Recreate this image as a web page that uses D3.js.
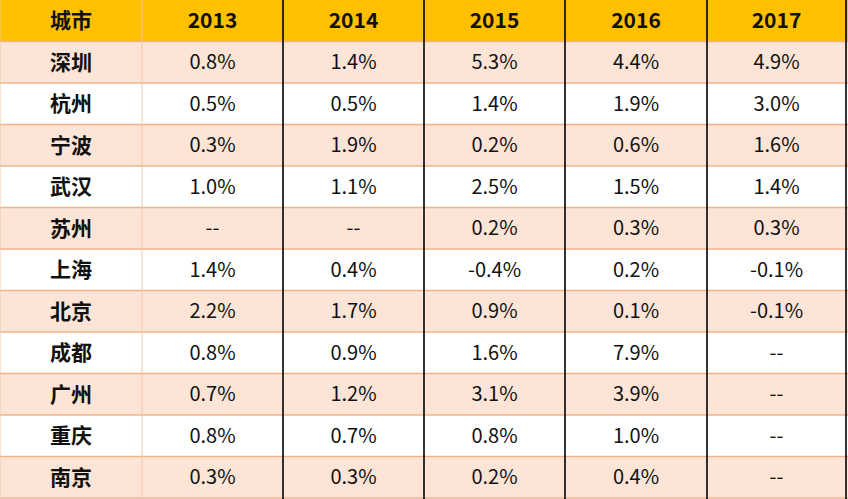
<!DOCTYPE html>
<html>
<head>
<meta charset="utf-8">
<script src="https://cdn.jsdelivr.net/npm/d3@7"></script>
<style>
  body { margin: 0; background: #fff; }
  svg { display: block; }
</style>
</head>
<body>
<svg id="table" width="848" height="499"></svg>
<script>
// table contents
var header0 = "城市";
var years = ["2013", "2014", "2015", "2016", "2017"];
var cities = ["深圳", "杭州", "宁波", "武汉", "苏州", "上海", "北京", "成都", "广州", "重庆", "南京"];
var v2013 = ["0.8%", "0.5%", "0.3%", "1.0%", "--", "1.4%", "2.2%", "0.8%", "0.7%", "0.8%", "0.3%"];
var v2014 = ["1.4%", "0.5%", "1.9%", "1.1%", "--", "0.4%", "1.7%", "0.9%", "1.2%", "0.7%", "0.3%"];
var v2015 = ["5.3%", "1.4%", "0.2%", "2.5%", "0.2%", "-0.4%", "0.9%", "1.6%", "3.1%", "0.8%", "0.2%"];
var v2016 = ["4.4%", "1.9%", "0.6%", "1.5%", "0.3%", "0.2%", "0.1%", "7.9%", "3.9%", "1.0%", "0.4%"];
var v2017 = ["4.9%", "3.0%", "1.6%", "1.4%", "0.3%", "-0.1%", "-0.1%", "--", "--", "--", "--"];

var svg = d3.select("#table");
var width = 848, height = 499;

var columns = [header0].concat(years);
var seriesByYear = [v2013, v2014, v2015, v2016, v2017];

// column edges: city column a bit narrower
var colEdges = [0, 142, 283, 424, 565, 707, 846];
var x = function(i) { return colEdges[i]; };
var colW = function(i) { return colEdges[i + 1] - colEdges[i]; };

var rowKeys = ["header"].concat(cities);
var y = d3.scaleBand()
    .domain(rowKeys)
    .range([0, 498])
    .padding(0);

var font = "'Noto Sans CJK SC', 'Microsoft YaHei', sans-serif";

// row backgrounds
svg.selectAll("rect.row")
    .data(rowKeys)
    .enter()
    .append("rect")
    .attr("class", "row")
    .attr("x", 0)
    .attr("y", function(d) { return y(d); })
    .attr("width", width)
    .attr("height", y.bandwidth())
    .attr("fill", function(d, i) {
        if (i == 0) return "#FFC000";
        return (i % 2 == 1) ? "#FCE4D6" : "#FFFFFF";
    });

// horizontal lines
svg.selectAll("line.h")
    .data(rowKeys.slice(1).concat(["end"]))
    .enter()
    .append("line")
    .attr("class", "h")
    .attr("x1", 0)
    .attr("x2", width)
    .attr("y1", function(d) { return d == "end" ? 498 : y(d); })
    .attr("y2", function(d) { return d == "end" ? 498 : y(d); })
    .attr("stroke", "#F0B48C")
    .attr("stroke-width", 1.5);

// vertical lines
svg.selectAll("line.v")
    .data(colEdges)
    .enter()
    .append("line")
    .attr("class", "v")
    .attr("x1", function(d) { return d; })
    .attr("x2", function(d) { return d; })
    .attr("y1", 0)
    .attr("y2", 499)
    .attr("stroke", function(d, i) { return (i < 2) ? "#F0C8A8" : "#000"; })
    .attr("stroke-width", function(d, i) { return (i < 2) ? 1 : 1.6; });

// header text
svg.selectAll("text.head")
    .data(columns)
    .enter()
    .append("text")
    .attr("class", "head")
    .attr("x", function(d, i) { return x(i) + colW(i) / 2; })
    .attr("y", y("header") + y.bandwidth() / 2)
    .attr("dy", "0.35em")
    .attr("text-anchor", "middle")
    .style("font-family", font)
    .style("font-weight", "bold")
    .style("font-size", "21px")
    .style("fill", "#111")
    .text(function(d) { return d; });

// city names
svg.selectAll("text.city")
    .data(cities)
    .enter()
    .append("text")
    .attr("class", "city")
    .attr("x", colW(0) / 2)
    .attr("y", function(d) { return y(d) + y.bandwidth() / 2; })
    .attr("dy", "0.35em")
    .attr("text-anchor", "middle")
    .style("font-family", font)
    .style("font-weight", "bold")
    .style("font-size", "21px")
    .style("fill", "#111")
    .text(function(d) { return d; });

// values
seriesByYear.forEach(function(vals, j) {
    svg.selectAll("text.val" + j)
        .data(vals)
        .enter()
        .append("text")
        .attr("class", "val" + j)
        .attr("x", x(j + 1) + colW(j + 1) / 2)
        .attr("y", function(d, i) { return y(cities[i]) + y.bandwidth() / 2; })
        .attr("dy", "0.35em")
        .attr("text-anchor", "middle")
        .style("font-family", font)
        .style("font-size", "20px")
        .style("fill", "#111")
        .text(function(d) { return d; });
});
</script>
</body>
</html>
